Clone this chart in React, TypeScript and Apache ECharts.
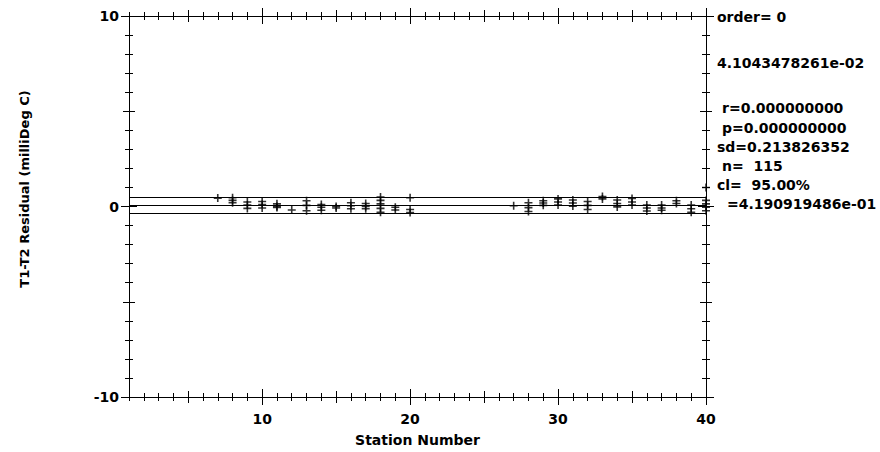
import React, { useEffect, useRef } from "react";
import * as echarts from "echarts";

// Station numbers and their T1-T2 residuals (milliDeg C)
const stations = [7, 8, 9, 10, 11, 12, 13, 14, 15, 16, 17, 18, 19, 20, 27, 28, 29, 30, 31, 32, 33, 34, 35, 36, 37, 38, 39, 40];
const residuals: number[][] = [
  [0.44],
  [0.46, 0.32, 0.2],
  [0.24, 0.08, -0.1],
  [0.26, 0.1, -0.08],
  [0.14, 0.0, -0.05],
  [-0.18],
  [0.3, 0.06, -0.22],
  [0.1, -0.04, -0.2],
  [0.0, -0.08],
  [0.2, 0.04, -0.12],
  [0.16, 0.0, -0.12],
  [0.5, 0.32, 0.14, -0.1, -0.3],
  [-0.04, -0.18],
  [0.46, -0.16, -0.32],
  [0.04],
  [0.2, -0.06, -0.26],
  [0.3, 0.18, 0.06],
  [0.4, 0.24, 0.08],
  [0.34, 0.18, 0.02],
  [0.26, 0.06, -0.16],
  [0.52, 0.4],
  [0.34, 0.16, -0.02],
  [0.42, 0.24, 0.08],
  [0.08, -0.08, -0.24],
  [0.08, -0.08, -0.2],
  [0.3, 0.16],
  [0.08, -0.12, -0.3],
  [1.0, 0.32, 0.14, -0.04, -0.22],
];

const meanValue = 0.041043478261;
const confHalf = 0.4190919486;

const xLabelValues = [10, 20, 30, 40];
const xMinorTicks = Array.from({ length: 40 }, (_, i) => i + 1);
const xMediumTicks = [5, 15, 25, 35];
const xMajorTicks = [10, 20, 30, 40];

const yLabelValues = [-10, 0, 10];
const yMinorTicks = Array.from({ length: 21 }, (_, i) => i - 10);
const yMediumTicks = [-5, 5];
const yMajorTicks = [-10, 0, 10];

const statsLines = [
  "order= 0",
  "4.1043478261e-02",
  "r=0.000000000",
  "p=0.000000000",
  "sd=0.213826352",
  "n=\u00a0\u00a0115",
  "cl=\u00a0\u00a095.00%",
  "=4.190919486e-01",
];

const FONT = "DejaVu Sans";

export default function App() {
  const ref = useRef<HTMLDivElement>(null);

  useEffect(() => {
    if (!ref.current) return;
    const chart = echarts.init(ref.current, undefined, { renderer: "svg" });

    const points: number[][] = [];
    stations.forEach((s, i) => residuals[i].forEach((v) => points.push([s, v])));

    const tickSets = (minor: number[], medium: number[], major: number[]) => [
      { values: minor, len: 4 },
      { values: medium, len: 6 },
      { values: major, len: 8 },
    ];

    const labelStyle = { color: "#000", fontFamily: FONT, fontWeight: "bold" as const, fontSize: 14 };
    const lineStyle = { color: "#000", width: 1 };

    const xAxes: any[] = [];
    const yAxes: any[] = [];

    xAxes.push({
      type: "value",
      position: "bottom",
      min: 1,
      max: 40,
      axisLine: { show: true, onZero: false, lineStyle },
      axisTick: { show: false },
      splitLine: { show: false },
      axisLabel: { ...labelStyle, margin: 15, customValues: xLabelValues },
      name: "Station Number",
      nameLocation: "middle",
      nameGap: 36,
      nameTextStyle: { ...labelStyle },
    });
    yAxes.push({
      type: "value",
      position: "left",
      min: -10,
      max: 10,
      axisLine: { show: true, onZero: false, lineStyle },
      axisTick: { show: false },
      splitLine: { show: false },
      axisLabel: { ...labelStyle, margin: 10, customValues: yLabelValues },
    });
    xAxes.push({
      type: "value", position: "top", min: 1, max: 40,
      axisLine: { show: true, onZero: false, lineStyle },
      axisTick: { show: false }, axisLabel: { show: false }, splitLine: { show: false },
    });
    yAxes.push({
      type: "value", position: "right", min: -10, max: 10,
      axisLine: { show: true, onZero: false, lineStyle },
      axisTick: { show: false }, axisLabel: { show: false }, splitLine: { show: false },
    });

    for (const pos of ["bottom", "top"]) {
      for (const ts of tickSets(xMinorTicks, xMediumTicks, xMajorTicks)) {
        for (const inside of [true, false]) {
          xAxes.push({
            type: "value", position: pos, min: 1, max: 40,
            axisLine: { show: false, onZero: false },
            axisTick: { show: true, inside, length: ts.len, customValues: ts.values, lineStyle },
            axisLabel: { show: false }, splitLine: { show: false },
          });
        }
      }
    }
    for (const pos of ["left", "right"]) {
      for (const ts of tickSets(yMinorTicks, yMediumTicks, yMajorTicks)) {
        for (const inside of [true, false]) {
          yAxes.push({
            type: "value", position: pos, min: -10, max: 10,
            axisLine: { show: false, onZero: false },
            axisTick: { show: true, inside, length: ts.len, customValues: ts.values, lineStyle },
            axisLabel: { show: false }, splitLine: { show: false },
          });
        }
      }
    }

    const statsY = [17, 63, 108, 128, 147, 166, 184.5, 203.5];
    const statsX = [717, 717, 722, 722, 717, 722, 717, 727];

    chart.setOption({
      animation: false,
      backgroundColor: "#fff",
      grid: { left: 129, right: 174, top: 16, bottom: 53, containLabel: false },
      xAxis: xAxes,
      yAxis: yAxes,
      series: [
        {
          type: "scatter",
          xAxisIndex: 0,
          yAxisIndex: 0,
          data: points,
          symbol: "path://M0,4H10V6H0Z M4,0H6V10H4Z",
          symbolSize: 8,
          itemStyle: { color: "#000" },
          silent: true,
          markLine: {
            silent: true,
            symbol: "none",
            label: { show: false },
            lineStyle: { color: "#000", width: 1, type: "solid" },
            data: [
              { yAxis: meanValue + confHalf },
              { yAxis: meanValue },
              { yAxis: meanValue - confHalf },
            ],
          },
        },
      ],
      graphic: [
        {
          type: "text",
          x: 24,
          y: 189,
          rotation: Math.PI / 2,
          style: {
            text: "T1-T2 Residual (milliDeg C)",
            font: `bold 13px "${FONT}"`,
            fill: "#000",
            align: "center",
            verticalAlign: "middle",
          },
        },
        ...statsLines.map((t, i) => ({
          type: "text",
          x: statsX[i],
          y: statsY[i],
          style: {
            text: t,
            font: `bold 14px "${FONT}"`,
            fill: "#000",
            align: "left",
            verticalAlign: "middle",
          },
        })),
      ],
    });

    return () => chart.dispose();
  }, []);

  return <div ref={ref} style={{ position: "fixed", left: 0, top: 0, width: 880, height: 452 }} />;
}
